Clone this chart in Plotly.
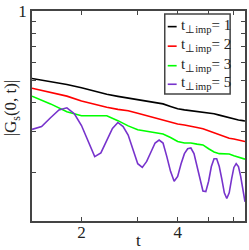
import plotly.graph_objects as go

# time grid (log-scaled x axis)
t_fine = [1.4, 1.5, 1.6, 1.7, 1.8, 1.9, 2.0, 2.1, 2.2, 2.3, 2.4, 2.5, 2.6, 2.7, 2.8, 2.9,
          3.0, 3.1, 3.2, 3.3, 3.4, 3.5, 3.6, 3.7, 3.8, 3.9, 4.0, 4.1, 4.2, 4.3, 4.4, 4.5,
          4.6, 4.7, 4.8, 4.9, 5.0, 5.1, 5.2, 5.3, 5.4, 5.5, 5.6, 5.7, 5.8, 5.9, 6.0, 6.1,
          6.2, 6.3, 6.4, 6.5]
t_coarse = [1.4, 1.6, 1.8, 2.0, 2.2, 2.4, 2.6, 2.8, 3.0, 3.2, 3.4, 3.6, 3.8, 4.0,
            4.2, 4.4, 4.6, 4.8, 5.0, 5.2, 5.4, 5.6, 5.8, 6.0, 6.2, 6.4, 6.5]

g_timp1 = [0.510, 0.495, 0.481, 0.465, 0.449, 0.436, 0.427, 0.420, 0.414, 0.408, 0.400,
           0.396, 0.386, 0.377, 0.373, 0.370, 0.366, 0.363, 0.361, 0.359, 0.354, 0.349,
           0.344, 0.340, 0.337, 0.335, 0.334]
g_timp2 = [0.463, 0.445, 0.428, 0.408, 0.394, 0.383, 0.375, 0.370, 0.361, 0.352, 0.345,
           0.337, 0.329, 0.324, 0.321, 0.318, 0.313, 0.309, 0.303, 0.298, 0.291, 0.286,
           0.281, 0.279, 0.276, 0.273, 0.272]
g_timp3 = [0.428, 0.396, 0.366, 0.352, 0.352, 0.352, 0.335, 0.318, 0.306, 0.301, 0.298,
           0.293, 0.283, 0.272, 0.268, 0.268, 0.265, 0.263, 0.253, 0.245, 0.241, 0.240,
           0.240, 0.236, 0.233, 0.229, 0.228]
g_timp5 = [0.307, 0.316, 0.345, 0.373, 0.381, 0.359, 0.319, 0.271, 0.234, 0.243, 0.276,
           0.310, 0.329, 0.316, 0.290, 0.250, 0.218, 0.210, 0.223, 0.245, 0.268, 0.276,
           0.268, 0.234, 0.202, 0.183, 0.192, 0.218, 0.241, 0.253, 0.255, 0.241, 0.212,
           0.183, 0.166, 0.165, 0.183, 0.212, 0.229, 0.229, 0.212, 0.187, 0.163, 0.154,
           0.163, 0.187, 0.210, 0.218, 0.212, 0.192, 0.166, 0.149]

legend_labels = ["t<sub>⊥imp</sub>= 1", "t<sub>⊥imp</sub>= 2",
                 "t<sub>⊥imp</sub>= 3", "t<sub>⊥imp</sub>= 5"]
colors = ["#000000", "#ff0000", "#00ff00", "#7733cc"]

x_tickvals = [2, 4]
x_ticktext = ["2", "4"]
x_minor = [3, 5, 6]
y_tickvals = [1.0]
y_ticktext = ["1"]
y_minor = [0.2, 0.3, 0.4, 0.5, 0.6, 0.7, 0.8, 0.9]

series = [(t_coarse, g_timp1), (t_coarse, g_timp2), (t_coarse, g_timp3), (t_fine, g_timp5)]

fig = go.Figure()
for (xs, ys), c, name in zip(series, colors, legend_labels):
    fig.add_trace(go.Scatter(x=xs, y=ys, mode="lines", name=name,
                             line=dict(color=c, width=1.6), showlegend=False))

SERIF = "Liberation Serif"
axcol = "#444444"
txtcol = "#222222"
fig.update_layout(
    width=249, height=250,
    margin=dict(l=32, r=2, t=6, b=29),
    paper_bgcolor="white", plot_bgcolor="white",
    font=dict(family=SERIF, size=16, color=txtcol),
    xaxis=dict(type="log", range=[0.1461, 0.8129], showgrid=False, zeroline=False,
               showline=True, linecolor=axcol, linewidth=1.5, mirror="ticks",
               ticks="inside", ticklen=4, tickcolor=axcol, tickwidth=1,
               tickvals=x_tickvals, ticktext=x_ticktext, ticklabelstandoff=-5,
               minor=dict(tickvals=x_minor, ticks="inside", ticklen=4,
                          tickcolor=axcol, tickwidth=1),
               tickfont=dict(family=SERIF, size=17, color=txtcol)),
    yaxis=dict(type="log", range=[-0.910, 0.0005], showgrid=False, zeroline=False,
               showline=True, linecolor=axcol, linewidth=1.5, mirror="ticks",
               ticks="inside", ticklen=4, tickcolor=axcol, tickwidth=1,
               tickvals=y_tickvals, ticktext=y_ticktext, ticklabeloverflow="allow",
               minor=dict(tickvals=y_minor, ticks="inside", ticklen=4,
                          tickcolor=axcol, tickwidth=1),
               tickfont=dict(family=SERIF, size=17, color=txtcol)),
)

# axis titles
fig.add_annotation(text="t", xref="paper", yref="paper", x=0.5, y=-0.094,
                   xanchor="center", yanchor="middle", showarrow=False,
                   font=dict(family=SERIF, size=17, color=txtcol))
fig.add_annotation(text="|G<sub>s</sub>(0, t)|", xref="paper", yref="paper",
                   x=-0.095, y=0.54, textangle=-90, xanchor="center", yanchor="middle",
                   showarrow=False, font=dict(family=SERIF, size=17, color=txtcol))

# legend box drawn manually (compact, as in the reference)
def px_x(p):
    return (p - 32) / 215.0

def px_y(p):
    return (221 - p) / 215.0

fig.add_shape(type="rect", xref="paper", yref="paper",
              x0=px_x(166), x1=px_x(232), y0=px_y(91), y1=px_y(9),
              line=dict(color=axcol, width=1.5), fillcolor="white", layer="above")
line_y = [22, 42, 62, 81]
for ly, c, name in zip(line_y, colors, legend_labels):
    fig.add_shape(type="line", xref="paper", yref="paper",
                  x0=px_x(169), x1=px_x(178), y0=px_y(ly), y1=px_y(ly),
                  line=dict(color=c, width=1.6), layer="above")
    fig.add_annotation(text=name, xref="paper", yref="paper",
                       x=px_x(180), y=px_y(ly - 1), xanchor="left", yanchor="middle",
                       showarrow=False, font=dict(family=SERIF, size=15, color=txtcol))

fig.write_html("out.html", config={"displayModeBar": False},
               post_script="document.body.style.margin='0';")
